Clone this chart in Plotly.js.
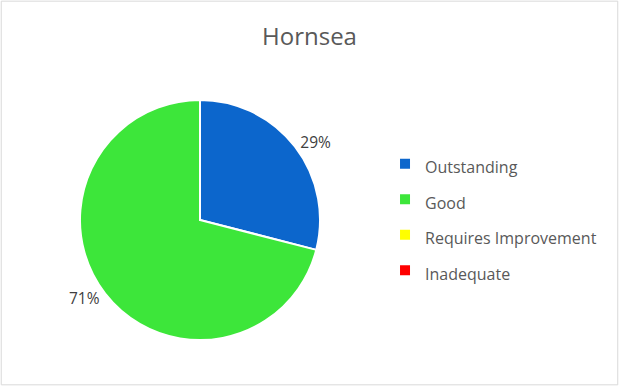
<!DOCTYPE html>
<html><head><meta charset="utf-8">
<script src="https://cdn.plot.ly/plotly-3.0.1.min.js"></script>
<style>html,body{margin:0;padding:0;background:#fff}#chart{width:619px;height:386px}</style>
</head><body><div id="chart"></div>
<script>
const categories = ["Outstanding", "Good", "Requires Improvement", "Inadequate"];
const values = [29, 71, 0, 0];
const colors = ["#0C66CC", "#3DE63A", "#FFFF00", "#FF0000"];
const title = "Hornsea";

const trace = {
  type: "pie",
  labels: categories.map(c => '<span style="font-size:16px">' + c + '</span>'),
  values: values,
  sort: false,
  direction: "clockwise",
  rotation: 0,
  marker: {colors: colors, line: {color: "#ffffff", width: 2}},
  textinfo: "percent",
  texttemplate: values.map(v => v > 0 ? "%{percent:.0%}" : ""),
  textposition: "outside",
  outsidetextfont: {family: "Open Sans, sans-serif", size: 15.5, color: "#404040"},
  domain: {x: [0.1292, 0.517], y: [0.119, 0.741]},
  hoverinfo: "percent"
};
const layout = {
  width: 619, height: 386,
  margin: {l: 0, r: 0, t: 0, b: 0},
  paper_bgcolor: "#ffffff",
  title: {text: title, font: {family: "Open Sans, sans-serif", size: 24, color: "#595959"}, x: 0.5, xanchor: "center", y: 0.905, yanchor: "middle"},
  showlegend: true,
  legend: {x: 0.622, y: 0.438, xanchor: "left", yanchor: "middle", font: {family: "Open Sans, sans-serif", size: 25, color: "#595959"}, traceorder: "normal"},
  shapes: [{type: "rect", xref: "paper", yref: "paper", x0: 0.002, x1: 0.998, y0: 0.003, y1: 0.997, line: {color: "#D9D9D9", width: 1}}]
};
Plotly.newPlot("chart", [trace], layout, {displayModeBar: false, staticPlot: true});
</script></body></html>
